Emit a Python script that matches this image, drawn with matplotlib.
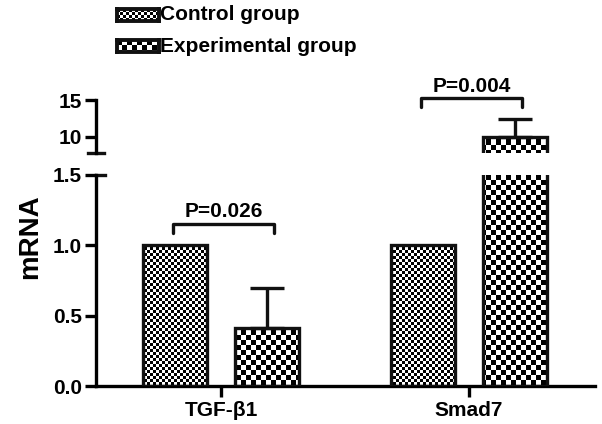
import numpy as np
import matplotlib
matplotlib.use('Agg')
import matplotlib.pyplot as plt

plt.rcParams['font.family'] = ['Liberation Sans', 'DejaVu Sans']
plt.rcParams['font.weight'] = 'bold'

categories = ['TGF-β1', 'Smad7']
control = [1.0, 1.0]
experimental = [0.41, 10.0]
exp_err = [0.29, 2.4]
p_labels = ['P=0.026', 'P=0.004']
legend_labels = ['Control group', 'Experimental group']

W, H = 602, 424
fig = plt.figure(figsize=(W / 100, H / 100), dpi=100)
ax = fig.add_axes([96 / W, 38 / H, 499 / W, 211 / H])
axt = fig.add_axes([96 / W, 271 / H, 499 / W, 53 / H], sharex=ax)

LW = 2.4
BW = 0.258
OFF = 0.185
x = np.arange(len(categories))


def checker(nx, ny, cell):
    yy, xx = np.mgrid[0:ny, 0:nx]
    return ((xx // cell + yy // cell) % 2).astype(float)


def fill_checker(a, bars, cell):
    bb = a.get_position()
    pw, ph = int(round(bb.width * W)), int(round(bb.height * H))
    img = checker(pw, ph, cell)
    for b in bars:
        im = a.imshow(img, cmap='gray', vmin=0, vmax=1, extent=(0, 1, 0, 1),
                      transform=a.transAxes, interpolation='nearest',
                      aspect='auto', zorder=1)
        im.set_clip_path(b)


for a in (ax, axt):
    bc = a.bar(x - OFF, control, BW, facecolor='none', edgecolor='#111111',
               linewidth=LW, zorder=3)
    be = a.bar(x + OFF, experimental, BW, facecolor='none', edgecolor='#111111',
               linewidth=LW, zorder=3)
    fill_checker(a, bc, 3)
    fill_checker(a, be, 5)
    a.errorbar(x + OFF, experimental, yerr=[np.zeros(len(exp_err)), exp_err],
               fmt='none', ecolor='#111111', elinewidth=LW, capsize=12.5,
               capthick=LW, zorder=2)

ax.set_xlim(-0.504, 1.508)
ax.set_ylim(0, 1.5)
axt.set_ylim(7.8, 15)

for a in (ax, axt):
    a.spines['top'].set_visible(False)
    a.spines['right'].set_visible(False)
    a.spines['left'].set_linewidth(LW)
    a.tick_params(axis='y', length=8, width=LW, labelsize=15, pad=2)
ax.spines['bottom'].set_linewidth(LW)
axt.spines['bottom'].set_visible(False)
axt.tick_params(axis='x', bottom=False, labelbottom=False)

ax.set_yticks([0, 0.5, 1.0, 1.5])
ax.set_yticklabels(['0.0', '0.5', '1.0', '1.5'])
axt.set_yticks([10, 15])
ax.set_xticks(x)
ax.set_xticklabels(categories, fontsize=15)
ax.tick_params(axis='x', length=8, width=LW, pad=3)

# break caps
axt.plot([-0.016, 0.016], [0, 0], transform=axt.transAxes, color='#111111',
         lw=LW, clip_on=False)
ax.plot([0, 0.018], [1, 1], transform=ax.transAxes, color='#111111',
        lw=LW, clip_on=False)

# significance brackets
for a, i, y0, y1, yt in [(ax, 0, 1.09, 1.15, 1.17), (axt, 1, 14.1, 15.3, 15.6)]:
    xl, xr = x[i] - OFF - 0.01, x[i] + OFF + 0.03
    a.plot([xl, xl, xr, xr], [y0, y1, y1, y0], color='#111111', lw=LW,
           solid_capstyle='round', solid_joinstyle='round', clip_on=False)
    a.text((xl + xr) / 2, yt, p_labels[i], ha='center', va='bottom',
           fontsize=15, fontweight='bold')

fig.text(30 / W, 1 - 237 / H, 'mRNA', rotation=90, ha='center', va='center',
         fontsize=20, fontweight='bold')

# legend
for k, (lab, cell) in enumerate(zip(legend_labels, [3, 5])):
    yc = [15, 46][k]
    lax = fig.add_axes([117 / W, 1 - (yc + 6) / H, 42 / W, 12 / H])
    lax.imshow(checker(42, 12, cell), cmap='gray', vmin=0, vmax=1,
               interpolation='nearest', aspect='auto')
    lax.set_xticks([])
    lax.set_yticks([])
    for s in lax.spines.values():
        s.set_linewidth(2.8)
        s.set_color('#111111')
    fig.text(160 / W, 1 - yc / H, lab, ha='left', va='center', fontsize=15,
             fontweight='bold')

fig.savefig('out.png', dpi=100)
